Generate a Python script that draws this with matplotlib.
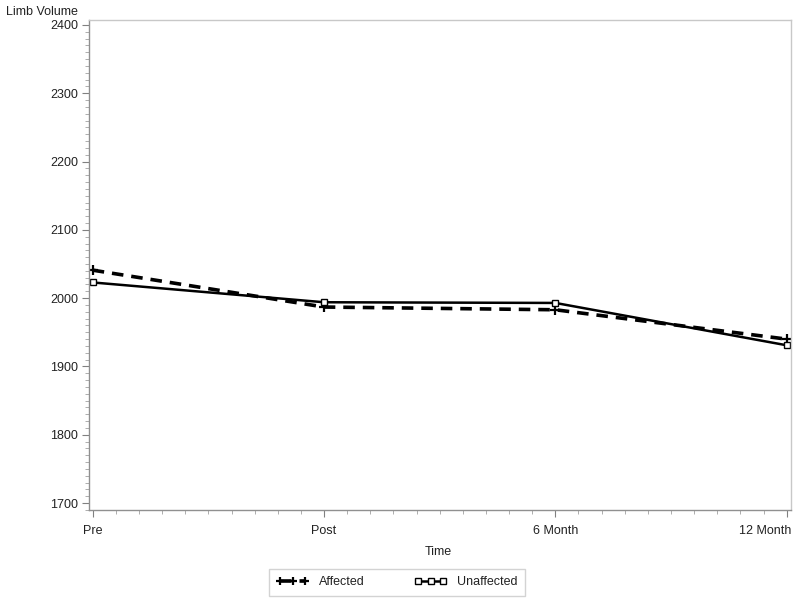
import matplotlib
matplotlib.use("Agg")
import matplotlib.pyplot as plt
import matplotlib.transforms as mtransforms
from matplotlib.ticker import MultipleLocator

plt.rcParams['font.family'] = ['Liberation Sans', 'DejaVu Sans']

categories = ["Pre", "Post", "6 Month", "12 Month"]
affected = [2041, 1987, 1983, 1940]
unaffected = [2023, 1994, 1993, 1931]

fig = plt.figure(figsize=(8.0, 6.05), dpi=100)
ax = fig.add_axes([89/800, 1 - 510/605, (791-89)/800, (510-20)/605])

x = list(range(len(categories)))
ax.plot(x, affected, color='black', lw=2.6, ls=(0, (3.2, 2.2)), marker='+',
        ms=7, mew=1.6, label='Affected')
ax.plot(x, unaffected, color='black', lw=1.8, ls='-', marker='s', ms=5,
        mfc='white', mec='black', mew=1.0, label='Unaffected')

ax.set_xlim(-0.016, 3.0186)
ax.set_ylim(1689.8, 2407.3)
ax.set_xticks(x)
ax.set_xticklabels(categories)
ax.xaxis.set_minor_locator(MultipleLocator(0.1))
ax.yaxis.set_major_locator(MultipleLocator(100))
ax.yaxis.set_minor_locator(MultipleLocator(10))

for s in ['top', 'right']:
    ax.spines[s].set_color('#c8c8c8')
for s in ['left', 'bottom']:
    ax.spines[s].set_color('#909090')
for s in ax.spines.values():
    s.set_linewidth(1.0)

ax.tick_params(axis='both', which='major', length=5, color='#808080',
               labelsize=9, labelcolor='#222222', pad=3)
ax.tick_params(axis='both', which='minor', length=3, color='#a0a0a0')
ax.tick_params(axis='x', which='major', pad=6)

last = ax.get_xticklabels()[-1]
last.set_horizontalalignment('right')
last.set_transform(last.get_transform() +
                   mtransforms.ScaledTranslation(5/100, 0, fig.dpi_scale_trans))

fig.text(6/800, 1 - 12/605, "Limb Volume", fontsize=9, color='#222222',
         ha='left', va='center')
fig.text(438/800, 1 - 552/605, "Time", fontsize=9, color='#222222',
         ha='center', va='center')

leg = fig.legend(loc='center', bbox_to_anchor=(397/800, 1 - 582/605), ncol=2,
                 frameon=True, fontsize=9, handlelength=2.6, numpoints=3,
                 markerscale=0.8, columnspacing=4.0, fancybox=False,
                 borderpad=0.6, edgecolor='#c8c8c8')
leg.get_frame().set_linewidth(1.0)
for t in leg.get_texts():
    t.set_color('#222222')

fig.savefig("out.png", dpi=100)
